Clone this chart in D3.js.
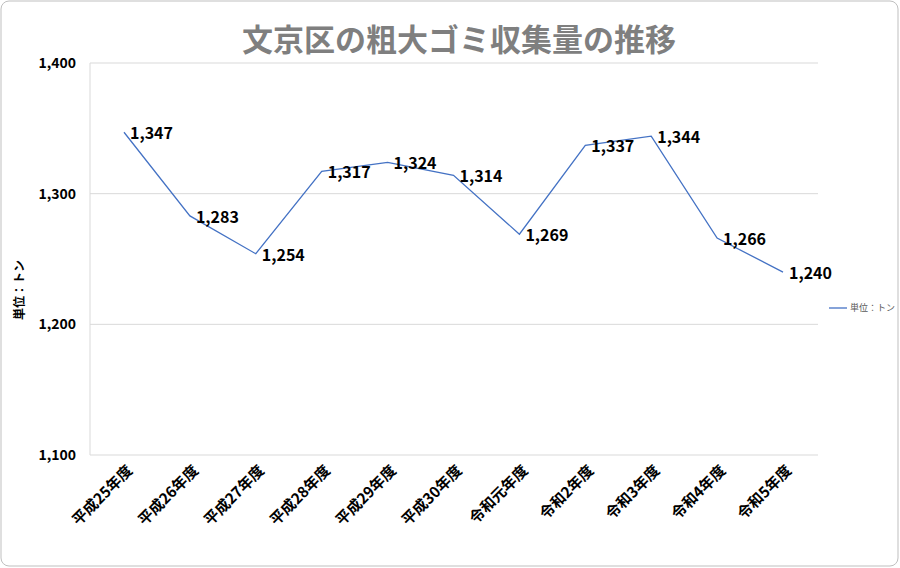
<!DOCTYPE html>
<html><head><meta charset="utf-8">
<script src="https://cdn.jsdelivr.net/npm/d3@7"></script>
<style>body{margin:0;background:#fff;font-family:"Noto Sans CJK JP","Noto Sans",sans-serif}</style>
</head><body>
<svg id="c" width="900" height="568"></svg>
<script>
const years = ["平成25年度","平成26年度","平成27年度","平成28年度","平成29年度","平成30年度","令和元年度","令和2年度","令和3年度","令和4年度","令和5年度"]
const tons = [1347,1283,1254,1317,1324,1314,1269,1337,1344,1266,1240]
const yTicks = [1100,1200,1300,1400]

const svg = d3.select("#c")
svg.append("rect").attr("x",1).attr("y",1).attr("width",897).attr("height",565)
  .attr("rx",8).attr("fill","#fff").attr("stroke","#bfbfbf")

const x = d3.scalePoint().domain(years).range([124,783])
const y = d3.scaleLinear().domain([1100,1400]).range([455,63])

svg.append("g").selectAll("line").data(yTicks).join("line")
  .attr("x1",90).attr("x2",818).attr("y1",d=>y(d)).attr("y2",d=>y(d))
  .attr("stroke","#d9d9d9")
svg.append("line").attr("x1",90).attr("x2",90).attr("y1",63).attr("y2",455).attr("stroke","#d9d9d9")

svg.append("g").selectAll("text").data(yTicks).join("text")
  .attr("x",76).attr("y",d=>y(d)+5).attr("text-anchor","end")
  .attr("font-size",14).attr("font-weight","bold").text(d3.format(","))

svg.append("g").selectAll("text").data(years).join("text")
  .attr("transform",d=>`translate(${x(d)+2},${464}) rotate(-45)`)
  .attr("text-anchor","end").attr("dy","0.7em")
  .attr("font-size",15).attr("font-weight","bold").text(d=>d)

svg.append("path").datum(tons)
  .attr("d",d3.line().x((d,i)=>x(years[i])).y(d=>y(d)))
  .attr("fill","none").attr("stroke","#4472c4").attr("stroke-width",1.3)

svg.append("g").selectAll("text").data(tons).join("text")
  .attr("x",(d,i)=>x(years[i])+6).attr("y",d=>y(d)+7)
  .attr("font-size",16).attr("font-weight","bold").text(d3.format(","))

svg.append("text").attr("x",459).attr("y",51).attr("text-anchor","middle")
  .attr("font-size",31).attr("font-weight","bold").attr("fill","#7f7f7f")
  .text("文京区の粗大ゴミ収集量の推移")

svg.append("text").attr("transform","translate(24,290) rotate(-90)")
  .attr("text-anchor","middle").attr("font-size",12).attr("font-weight","bold").text("単位：トン")

svg.append("line").attr("x1",829).attr("x2",847).attr("y1",308).attr("y2",308).attr("stroke","#4472c4").attr("stroke-width",1.3)
svg.append("text").attr("x",850).attr("y",311).attr("font-size",9).attr("fill","#595959").text("単位：トン")
</script>
</body></html>
